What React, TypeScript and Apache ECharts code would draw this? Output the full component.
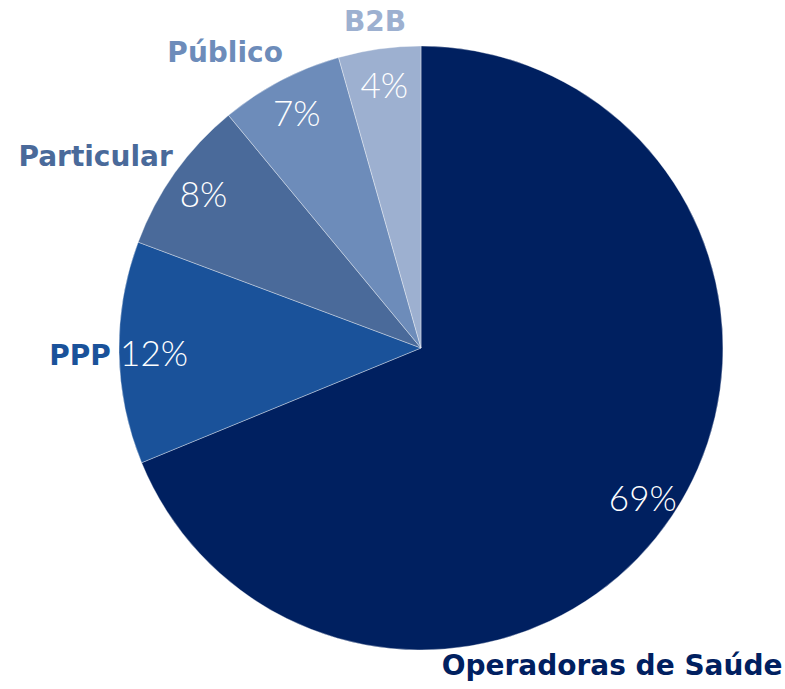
import React, { useEffect, useRef } from "react";
import * as echarts from "echarts";

const categories = ["Operadoras de Saúde", "PPP", "Particular", "Público", "B2B"];
const shares = [68.8, 11.9, 8.3, 6.6, 4.4];
const sliceColors = ["#002060", "#1A529A", "#4A6A9A", "#6D8CBA", "#9DB0D0"];
// label nudges (dx, dy) from the ring's default label spot
const outerOffsets: [number, number][] = [
  [-98, 124],
  [7, 2],
  [-42, 10],
  [-34, 13],
  [2, 18],
];

export default function App() {
  const ref = useRef<HTMLDivElement>(null);
  useEffect(() => {
    if (!ref.current) return;
    const chart = echarts.init(ref.current, null, { renderer: "svg" });
    const data = categories.map((name, i) => ({
      name,
      value: shares[i],
      itemStyle: { color: sliceColors[i] },
    }));
    const center = [421, 348];
    chart.setOption({
      animation: false,
      backgroundColor: "#ffffff",
      series: [
        {
          type: "pie",
          center,
          radius: [0, 302],
          startAngle: 90,
          clockwise: true,
          silent: true,
          label: { show: false },
          labelLine: { show: false },
          itemStyle: { borderColor: "rgba(255,255,255,0.6)", borderWidth: 0.6 },
          data,
        },
        {
          type: "pie",
          center,
          radius: [226, 302],
          startAngle: 90,
          clockwise: true,
          silent: true,
          itemStyle: { color: "rgba(0,0,0,0)" },
          label: {
            show: true,
            position: "inside",
            formatter: (p: any) => Math.round(p.value) + "%",
            color: "#ffffff",
            fontFamily: "Lato",
            fontWeight: 300,
            fontSize: 35,
          },
          labelLine: { show: false },
          data: categories.map((name, i) => ({ name, value: shares[i] })),
        },
        {
          type: "pie",
          center,
          radius: [335, 355],
          startAngle: 90,
          clockwise: true,
          silent: true,
          itemStyle: { color: "rgba(0,0,0,0)" },
          label: {
            show: true,
            position: "inside",
            formatter: "{b}",
            fontFamily: "DejaVu Sans",
            fontWeight: "bold",
            fontSize: 28,
          },
          labelLine: { show: false },
          labelLayout: (params: any) => {
            const o = outerOffsets[params.dataIndex];
            return { dx: o[0], dy: o[1] };
          },
          data: categories.map((name, i) => ({
            name,
            value: shares[i],
            label: { color: sliceColors[i] },
          })),
        },
      ],
    });
    return () => chart.dispose();
  }, []);
  return (
    <div
      ref={ref}
      style={{ position: "fixed", left: 0, top: 0, width: 785, height: 689 }}
    />
  );
}
